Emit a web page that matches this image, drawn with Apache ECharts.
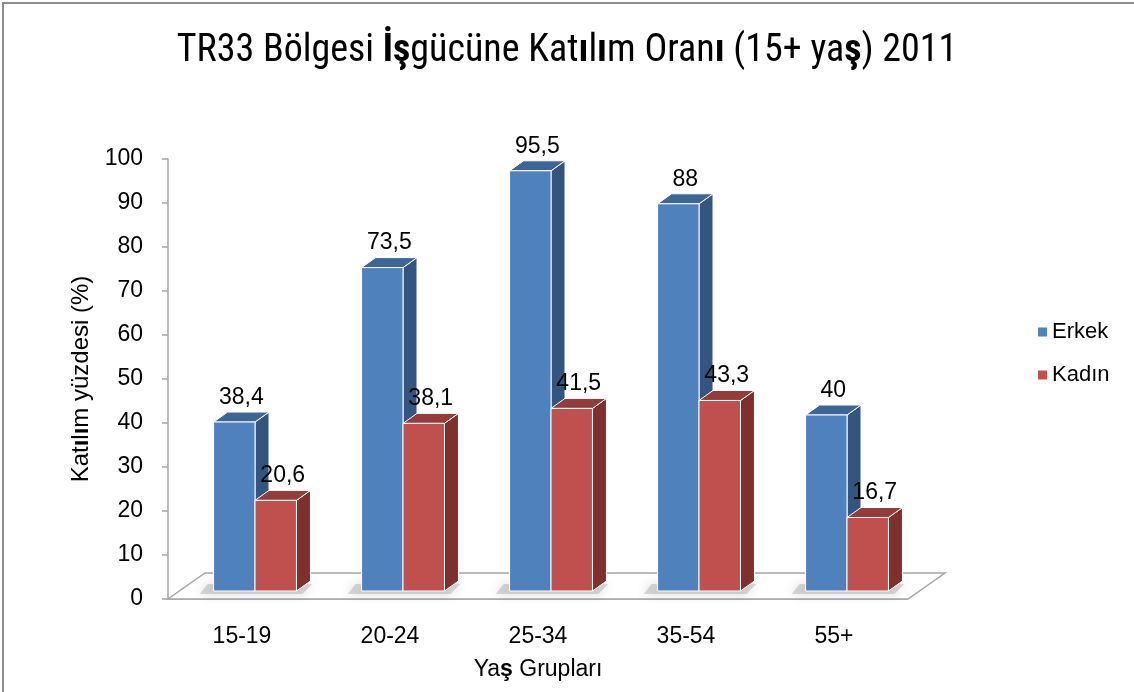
<!DOCTYPE html>
<html>
<head>
<meta charset="utf-8">
<script src="https://cdn.jsdelivr.net/npm/echarts@6/dist/echarts.min.js"></script>
<style>
  html, body { margin: 0; padding: 0; background: #fff; }
  #chart { width: 1134px; height: 692px; }
</style>
</head>
<body>
<div id="chart"></div>
<script>
// data
const categories = ['15-19', '20-24', '25-34', '35-54', '55+']
const erkek = [38.4, 73.5, 95.5, 88, 40]
const kadin = [20.6, 38.1, 41.5, 43.3, 16.7]
const seriesNames = ['Erkek', 'Kadın']
const yMin = 0
const yMax = 100
const yStep = 10

const FONT = '"Liberation Sans", Arial, sans-serif'
const TITLE_FONT = '"Roboto Condensed", Roboto, sans-serif'

// colours: front, side, top
const palette = [
  { front: '#4F81BD', side: '#34557F', top: '#3D6596' },
  { front: '#C0504D', side: '#7F2F2D', top: '#943C3A' }
]

const DX = 14 // bar depth
const DY = -10
const FLOOR_DX = 37
const FLOOR_DY = -26

function fmt(v) {
  return String(v).replace('.', ',')
}

function barRenderer(side) {
  return function(params, api) {
    const i = api.value(0)
    const v = api.value(1)
    const base = api.coord([i, 0])
    const top = api.coord([i, v])
    const band = api.size([1, 0])[0]
    const w = band * 0.28
    const x0 = base[0] + band * 0.088 + (side === 0 ? -w : 0)
    const yb = base[1] - 8
    const yt = top[1] - 8
    const c = palette[side]
    const edge = { stroke: '#fff', lineWidth: 1 }
    return {
      type: 'group',
      children: [
        {
          type: 'polygon',
          shape: { points: [[x0 + w, yt], [x0 + w + DX, yt + DY], [x0 + w + DX, yb + DY], [x0 + w, yb]] },
          style: Object.assign({ fill: c.side }, edge)
        },
        {
          type: 'polygon',
          shape: { points: [[x0, yt], [x0 + DX, yt + DY], [x0 + w + DX, yt + DY], [x0 + w, yt]] },
          style: Object.assign({ fill: c.top }, edge)
        },
        {
          type: 'rect',
          shape: { x: x0, y: yt, width: w, height: yb - yt },
          style: Object.assign({ fill: c.front }, edge)
        },
        {
          type: 'text',
          x: x0 + w / 2 + 7,
          y: yt + DY - 3,
          style: {
            text: fmt(v),
            fill: '#000',
            font: '23px ' + FONT,
            align: 'center',
            verticalAlign: 'bottom'
          }
        }
      ]
    }
  }
}

function floorRenderer(params, api) {
  const cs = params.coordSys
  const i = api.value(0)
  const base = api.coord([i, 0])
  const band = api.size([1, 0])[0]
  const children = []
  if (params.dataIndex === 0) {
    const yb = cs.y + cs.height
    children.push({
      type: 'polygon',
      shape: { points: [[cs.x, yb], [cs.x + cs.width, yb], [cs.x + cs.width + FLOOR_DX, yb + FLOOR_DY], [cs.x + FLOOR_DX, yb + FLOOR_DY]] },
      style: { fill: '#fff', stroke: '#A6A6A6', lineWidth: 1.5 }
    })
  }
  // soft shadow under the bar pair
  const w = band * 0.28
  const xl = base[0] + band * 0.088 - w
  const xr = base[0] + band * 0.088 + w
  const yb = base[1] - 8
  children.push({
    type: 'polygon',
    shape: { points: [[xl - 14, yb + 3], [xr + 6, yb + 3], [xr + DX + 2, yb + DY + 3], [xl + DX - 20, yb + DY + 3]] },
    style: { fill: 'rgba(150,150,150,0.35)', shadowBlur: 12, shadowColor: 'rgba(0,0,0,0.45)' }
  })
  return { type: 'group', children: children }
}

const chart = echarts.init(document.getElementById('chart'))

chart.setOption({
  backgroundColor: '#fff',
  animation: false,
  title: {
    text: 'TR33 Bölgesi {b|İş}gücüne Kat{b|ı}l{b|ı}m Oran{b|ı} (15+ ya{b|ş}) 2011',
    left: 'center',
    top: 27,
    textStyle: {
      fontFamily: TITLE_FONT,
      fontSize: 38,
      fontWeight: 'normal',
      color: '#000',
      rich: {
        b: { fontFamily: TITLE_FONT, fontSize: 38, fontWeight: 'bold', color: '#000' }
      }
    }
  },
  graphic: [{
    type: 'rect',
    shape: { x: 3, y: 3, width: 1140, height: 700 },
    style: { fill: 'none', stroke: '#8C8C8C', lineWidth: 2 },
    z: 100
  }],
  legend: {
    orient: 'vertical',
    left: 1033,
    top: 316,
    itemWidth: 9,
    itemHeight: 9,
    itemGap: 21,
    icon: 'rect',
    data: seriesNames,
    textStyle: { fontFamily: FONT, fontSize: 22, color: '#000' }
  },
  grid: {
    left: 168,
    right: 226,
    top: 159,
    bottom: 93
  },
  xAxis: {
    type: 'category',
    data: categories,
    name: 'Ya{b|ş} Grupları',
    nameLocation: 'middle',
    nameGap: 59,
    nameTextStyle: {
      fontFamily: FONT, fontSize: 23, color: '#000',
      rich: { b: { fontFamily: FONT, fontSize: 23, fontWeight: 'bold', color: '#000' } }
    },
    axisLine: { lineStyle: { color: '#A6A6A6', width: 1.5 } },
    axisTick: { length: 7, lineStyle: { color: '#A6A6A6', width: 1.5 } },
    axisLabel: { margin: 26, fontFamily: FONT, fontSize: 23, color: '#000' }
  },
  yAxis: {
    type: 'value',
    min: yMin,
    max: yMax,
    interval: yStep,
    name: 'Kat{b|ı}l{b|ı}m yüzdesi (%)',
    nameLocation: 'middle',
    nameRotate: 90,
    nameGap: 72,
    nameTextStyle: {
      fontFamily: FONT, fontSize: 24, color: '#000',
      rich: { b: { fontFamily: FONT, fontSize: 24, fontWeight: 'bold', color: '#000' } }
    },
    axisLine: { show: true, lineStyle: { color: '#A6A6A6', width: 1.5 } },
    axisTick: { show: true, length: 6, lineStyle: { color: '#A6A6A6', width: 1.5 } },
    splitLine: { show: false },
    axisLabel: { margin: 25, fontFamily: FONT, fontSize: 23, color: '#000' }
  },
  series: [
    {
      type: 'custom',
      name: 'floor',
      renderItem: floorRenderer,
      data: categories.map((c, i) => [i, 0]),
      encode: { x: 0, y: 1 },
      silent: true,
      z: 1
    },
    {
      type: 'custom',
      name: seriesNames[0],
      renderItem: barRenderer(0),
      itemStyle: { color: palette[0].front },
      data: erkek.map((v, i) => [i, v]),
      encode: { x: 0, y: 1 },
      z: 2
    },
    {
      type: 'custom',
      name: seriesNames[1],
      renderItem: barRenderer(1),
      itemStyle: { color: palette[1].front },
      data: kadin.map((v, i) => [i, v]),
      encode: { x: 0, y: 1 },
      z: 3
    }
  ]
})
</script>
</body>
</html>
